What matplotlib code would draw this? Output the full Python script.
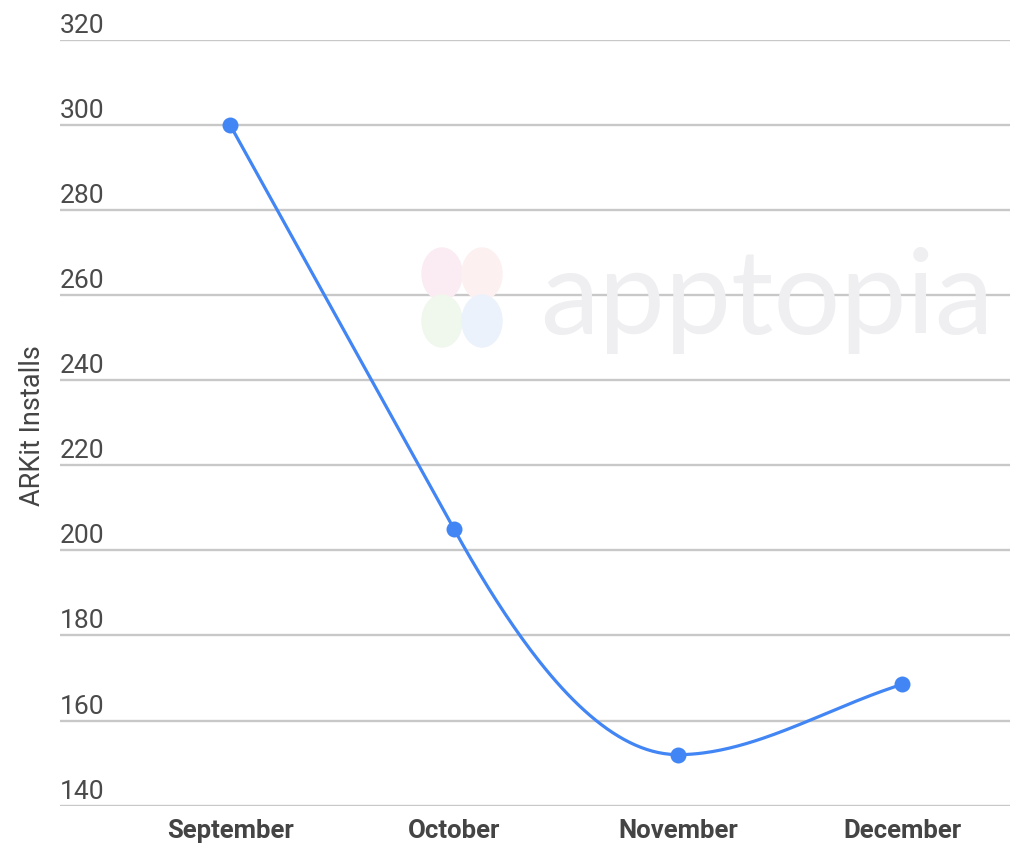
import numpy as np
import matplotlib
matplotlib.use("Agg")
import matplotlib.pyplot as plt
from matplotlib.patches import Ellipse
from matplotlib.transforms import blended_transform_factory, offset_copy

# ---- data ----
months = ["September", "October", "November", "December"]
installs = [300, 205, 152, 168.5]
y_ticks = [140, 160, 180, 200, 220, 240, 260, 280, 300, 320]
y_label = "ARKit Installs"

plt.rcParams['font.family'] = ['Roboto', 'DejaVu Sans']

W, H = 1010, 845
fig = plt.figure(figsize=(W / 100, H / 100), dpi=100)
ax = fig.add_axes([60 / W, 1 - 806.7 / H, 950 / W, (806.7 - 40.7) / H])

BLUE = "#4285F4"
GRID = "#c8c8c8"
TXT = "#4a4a4a"

# watermark (apptopia)
fig.text(540 / W, 1 - 300 / H, "apptopia", fontsize=85, color="#efeff2",
         ha="left", va="center", fontfamily="Lato", zorder=0)
for (cx, cy, c) in [(442, 275, "#fbecf3"), (482, 275, "#fdf0f0"),
                    (442, 322, "#f0f7ec"), (482, 322, "#ebf2fb")]:
    fig.patches.append(Ellipse((cx / W, 1 - cy / H), 40 / W, 52 / H,
                               transform=fig.transFigure, color=c, zorder=0))

x = np.arange(len(months), dtype=float)
y = np.array(installs, dtype=float)

# smooth rendering through the data points (Hermite; flat at local extrema)
sec = np.diff(y) / np.diff(x)
tang = np.empty_like(y)
tang[0], tang[-1] = sec[0], sec[-1]
for i in range(1, len(y) - 1):
    a, b = sec[i - 1], sec[i]
    tang[i] = 0.0 if a * b <= 0 else (a if abs(a) > abs(b) else b)

xs, ys = [], []
for i in range(len(y) - 1):
    t = np.linspace(0, 1, 80)
    h = x[i + 1] - x[i]
    h00 = 2 * t**3 - 3 * t**2 + 1
    h10 = t**3 - 2 * t**2 + t
    h01 = -2 * t**3 + 3 * t**2
    h11 = t**3 - t**2
    xs.append(x[i] + t * h)
    ys.append(h00 * y[i] + h10 * h * tang[i] + h01 * y[i + 1] + h11 * h * tang[i + 1])
xs = np.concatenate(xs)
ys = np.concatenate(ys)

ax.plot(xs, ys, color=BLUE, lw=2.3, zorder=3, solid_capstyle="round")
ax.plot(x, y, "o", color=BLUE, ms=11.5, zorder=4, mew=0)

ax.set_ylim(y_ticks[0], y_ticks[-1])
ax.set_xlim(-170 / 224, 3 + 108 / 224)
ax.set_yticks(y_ticks)
ax.yaxis.grid(True, color=GRID, lw=1.7, zorder=1)
ax.set_axisbelow(True)
ax.tick_params(axis="y", length=0, labelleft=False)
ax.tick_params(axis="x", length=0, pad=9)
ax.set_xticks(x)
ax.set_xticklabels(months, fontsize=18.5, color="#444444", fontweight="bold")
for s in ax.spines.values():
    s.set_visible(False)
ax.patch.set_alpha(0)

trans = offset_copy(blended_transform_factory(ax.transAxes, ax.transData),
                    fig=fig, x=0, y=8, units="dots")
for v in y_ticks:
    ax.text(0, v, str(v), transform=trans, ha="left", va="baseline",
            fontsize=19, color=TXT)

fig.text(33 / W, 1 - 426 / H, y_label, rotation=90, ha="center", va="center",
         fontsize=19.5, color="#444444")

fig.savefig("out.png", dpi=100, facecolor="white")
